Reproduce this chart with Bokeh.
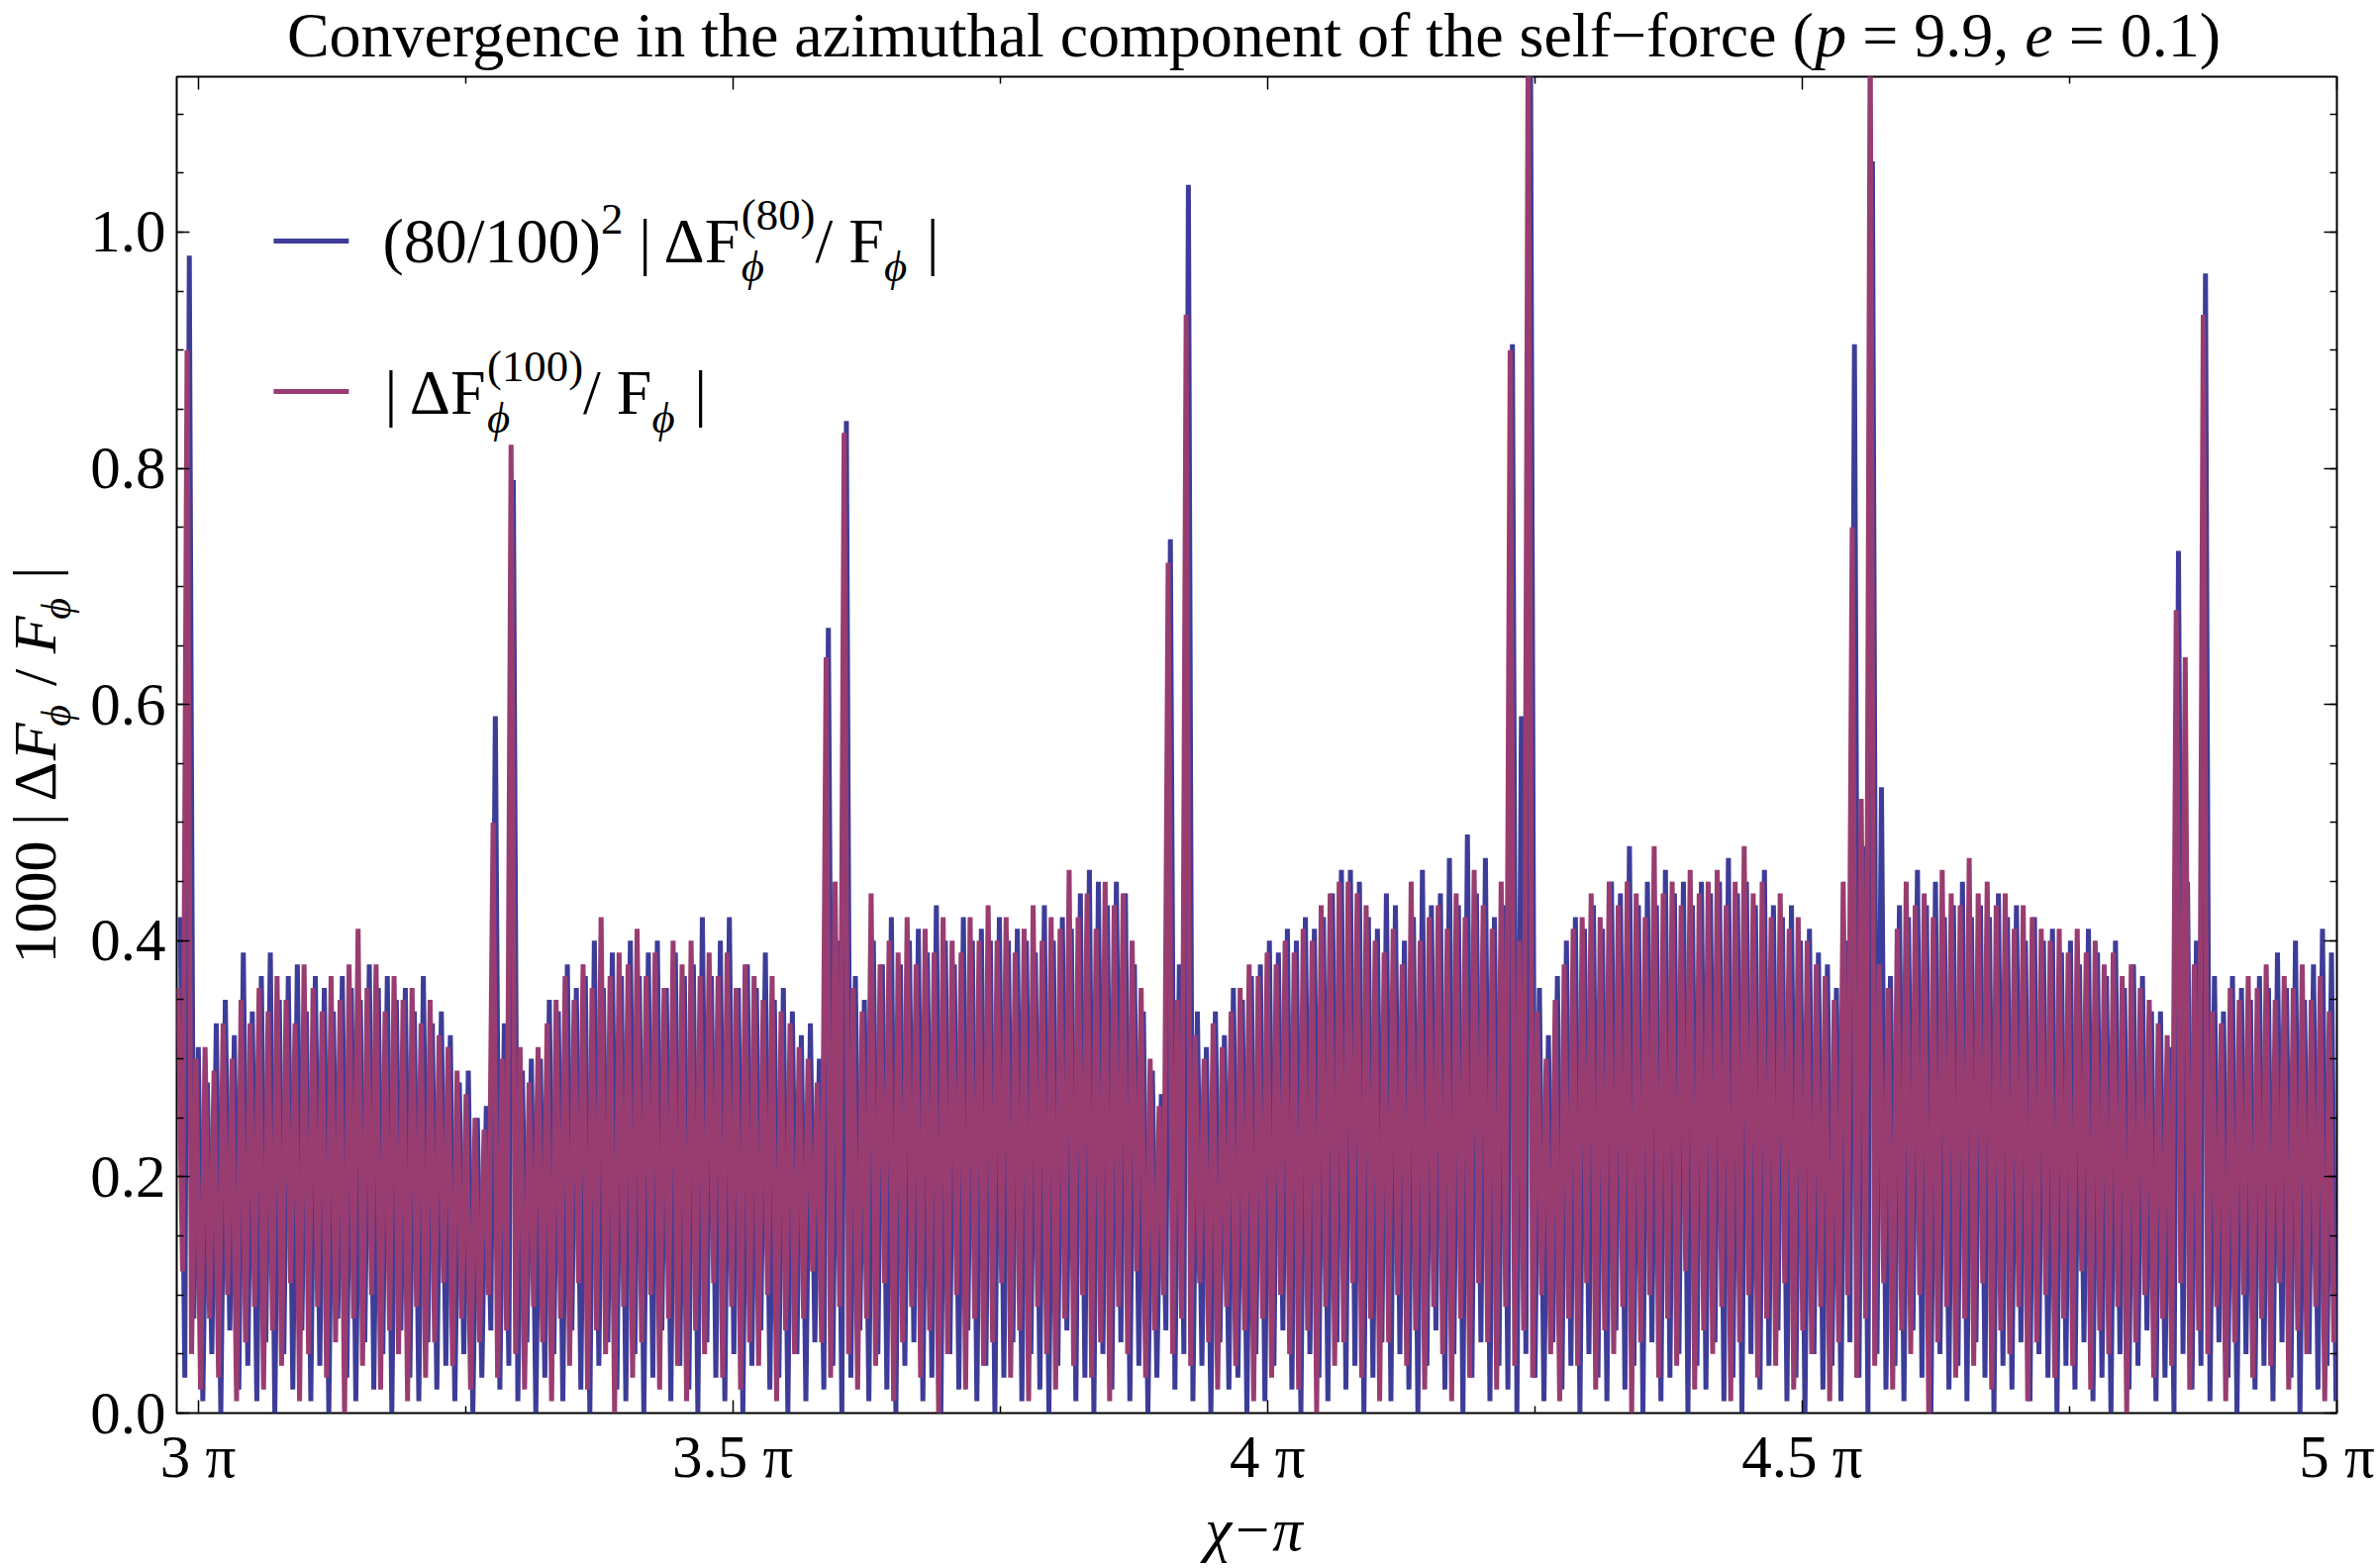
import numpy as np
from bokeh.plotting import figure
from bokeh.layouts import column, row
from bokeh.models import (Range1d, FixedTicker, LinearAxis, Label,
                          PrintfTickFormatter, CustomJSTickFormatter)
from bokeh.embed import file_html
from bokeh.resources import INLINE

# ---------------- data ----------------
# x in units of pi; 240 sample cells between x_start and x_end,
# each cell holds one local maximum and one local minimum per series
x_start = 2.98
x_end = 5.0

red_hi = [
 0.36,0.90,0.30,0.31,0.29,0.33,0.30,0.35,0.33,0.36,
 0.34,0.37,0.35,0.33,0.38,0.36,0.34,0.37,0.35,0.38,
 0.41,0.36,0.38,0.34,0.37,0.35,0.36,0.33,0.35,0.32,
 0.31,0.29,0.27,0.25,0.24,0.50,0.30,0.82,0.31,0.28,
 0.31,0.33,0.35,0.37,0.35,0.38,0.36,0.42,0.37,0.39,
 0.38,0.41,0.37,0.39,0.36,0.40,0.38,0.40,0.37,0.39,
 0.37,0.39,0.36,0.38,0.37,0.35,0.37,0.34,0.33,0.31,
 0.30,0.28,0.64,0.45,0.83,0.36,0.34,0.44,0.38,0.40,
 0.39,0.42,0.38,0.41,0.39,0.42,0.40,0.39,0.42,0.40,
 0.43,0.40,0.42,0.39,0.41,0.43,0.40,0.42,0.41,0.46,
 0.42,0.44,0.41,0.45,0.43,0.44,0.40,0.36,0.30,0.26,
 0.72,0.35,0.93,0.32,0.30,0.33,0.31,0.34,0.36,0.38,
 0.37,0.39,0.38,0.40,0.39,0.41,0.40,0.43,0.44,0.45,
 0.45,0.44,0.43,0.40,0.39,0.41,0.38,0.45,0.40,0.42,
 0.43,0.41,0.44,0.42,0.46,0.43,0.41,0.45,0.90,0.40,
 1.18,0.34,0.30,0.35,0.38,0.41,0.42,0.44,0.42,0.45,
 0.43,0.45,0.44,0.42,0.48,0.44,0.45,0.43,0.46,0.44,
 0.45,0.46,0.43,0.45,0.48,0.44,0.45,0.42,0.44,0.41,
 0.42,0.40,0.38,0.37,0.35,0.45,0.75,0.52,1.18,0.38,
 0.36,0.41,0.45,0.43,0.44,0.42,0.46,0.44,0.43,0.47,
 0.44,0.45,0.43,0.44,0.41,0.43,0.42,0.41,0.40,0.41,
 0.39,0.41,0.39,0.40,0.38,0.39,0.37,0.38,0.36,0.35,
 0.33,0.32,0.68,0.64,0.38,0.93,0.34,0.33,0.36,0.35,
 0.37,0.36,0.38,0.35,0.37,0.36,0.38,0.35,0.37,0.34,
]
red_lo = [
 0.12,0.05,0.02,0.08,0.03,0.10,0.01,0.06,0.09,0.02,
 0.07,0.04,0.11,0.01,0.05,0.09,0.03,0.06,0.00,0.08,
 0.04,0.10,0.02,0.07,0.05,0.01,0.09,0.03,0.06,0.11,
 0.04,0.08,0.02,0.06,0.10,0.03,0.07,0.05,0.02,0.09,
 0.06,0.01,0.08,0.04,0.11,0.02,0.07,0.05,0.00,0.09,
 0.03,0.06,0.10,0.02,0.08,0.04,0.01,0.07,0.05,0.11,
 0.03,0.09,0.02,0.06,0.04,0.10,0.01,0.07,0.05,0.08,
 0.12,0.06,0.03,0.09,0.05,0.02,0.08,0.04,0.11,0.01,
 0.06,0.09,0.03,0.07,0.00,0.05,0.10,0.02,0.08,0.04,
 0.06,0.11,0.03,0.07,0.01,0.09,0.05,0.02,0.08,0.04,
 0.10,0.03,0.06,0.01,0.09,0.05,0.12,0.03,0.07,0.10,
 0.05,0.08,0.04,0.11,0.06,0.02,0.09,0.04,0.07,0.01,
 0.08,0.03,0.10,0.05,0.02,0.07,0.00,0.09,0.04,0.06,
 0.11,0.03,0.08,0.01,0.06,0.10,0.04,0.07,0.02,0.09,
 0.05,0.01,0.08,0.03,0.11,0.06,0.02,0.09,0.04,0.07,
 0.03,0.10,0.05,0.01,0.08,0.04,0.11,0.02,0.07,0.05,
 0.09,0.00,0.06,0.10,0.03,0.08,0.04,0.12,0.02,0.07,
 0.05,0.09,0.01,0.06,0.10,0.03,0.08,0.04,0.11,0.02,
 0.07,0.05,0.09,0.01,0.06,0.10,0.03,0.08,0.04,0.11,
 0.02,0.07,0.05,0.10,0.00,0.06,0.09,0.03,0.08,0.04,
 0.11,0.02,0.07,0.05,0.09,0.01,0.06,0.10,0.03,0.08,
 0.04,0.12,0.02,0.07,0.05,0.09,0.00,0.06,0.10,0.03,
 0.08,0.04,0.11,0.02,0.07,0.05,0.09,0.01,0.06,0.10,
 0.03,0.08,0.04,0.11,0.02,0.07,0.05,0.09,0.01,0.06,
]
blue_hi = [
 0.42,0.98,0.31,0.28,0.33,0.35,0.32,0.39,0.34,0.37,
 0.39,0.35,0.37,0.38,0.34,0.37,0.36,0.34,0.37,0.36,
 0.35,0.38,0.36,0.37,0.35,0.36,0.34,0.37,0.33,0.34,
 0.32,0.28,0.29,0.25,0.26,0.59,0.33,0.79,0.29,0.30,
 0.30,0.35,0.34,0.38,0.36,0.37,0.40,0.36,0.39,0.37,
 0.40,0.37,0.39,0.40,0.36,0.39,0.37,0.38,0.42,0.37,
 0.40,0.42,0.36,0.38,0.36,0.39,0.35,0.36,0.34,0.32,
 0.33,0.30,0.665,0.40,0.84,0.37,0.35,0.40,0.38,0.42,
 0.38,0.40,0.41,0.39,0.43,0.40,0.38,0.42,0.40,0.41,
 0.40,0.42,0.40,0.41,0.40,0.39,0.43,0.40,0.42,0.41,
 0.44,0.46,0.45,0.43,0.45,0.44,0.38,0.34,0.29,0.27,
 0.74,0.38,1.04,0.34,0.31,0.34,0.32,0.36,0.35,0.37,
 0.38,0.40,0.39,0.41,0.40,0.42,0.41,0.42,0.44,0.46,
 0.46,0.45,0.42,0.41,0.44,0.43,0.40,0.42,0.46,0.43,
 0.44,0.47,0.43,0.49,0.44,0.47,0.42,0.43,0.905,0.59,
 1.18,0.36,0.32,0.37,0.40,0.42,0.41,0.43,0.41,0.45,
 0.44,0.48,0.43,0.45,0.43,0.46,0.44,0.45,0.43,0.45,
 0.44,0.45,0.47,0.44,0.45,0.43,0.46,0.43,0.42,0.43,
 0.40,0.41,0.39,0.38,0.36,0.40,0.905,0.48,1.06,0.53,
 0.37,0.43,0.42,0.46,0.43,0.45,0.42,0.43,0.45,0.42,
 0.43,0.42,0.44,0.42,0.43,0.40,0.42,0.40,0.41,0.39,
 0.40,0.38,0.41,0.39,0.37,0.40,0.36,0.38,0.37,0.34,
 0.34,0.31,0.73,0.45,0.40,0.965,0.37,0.34,0.37,0.36,
 0.35,0.37,0.36,0.39,0.36,0.40,0.35,0.38,0.41,0.39,
]
blue_lo = [
 0.03,0.08,0.01,0.05,0.00,0.07,0.02,0.04,0.01,0.06,
 0.00,0.05,0.02,0.07,0.01,0.04,0.00,0.08,0.03,0.01,
 0.06,0.02,0.05,0.00,0.07,0.03,0.01,0.06,0.02,0.04,
 0.01,0.05,0.00,0.03,0.07,0.02,0.04,0.01,0.06,0.00,
 0.03,0.05,0.01,0.07,0.02,0.00,0.04,0.06,0.02,0.01,
 0.05,0.00,0.03,0.07,0.01,0.04,0.02,0.00,0.06,0.03,
 0.01,0.05,0.00,0.04,0.07,0.02,0.03,0.00,0.05,0.01,
 0.06,0.02,0.04,0.00,0.03,0.07,0.01,0.05,0.02,0.00,
 0.04,0.06,0.01,0.03,0.00,0.05,0.02,0.07,0.01,0.04,
 0.00,0.03,0.06,0.01,0.05,0.02,0.00,0.04,0.07,0.01,
 0.03,0.00,0.05,0.02,0.06,0.01,0.04,0.00,0.03,0.07,
 0.02,0.05,0.01,0.04,0.00,0.06,0.02,0.03,0.00,0.05,
 0.01,0.04,0.07,0.02,0.00,0.05,0.03,0.01,0.06,0.02,
 0.04,0.00,0.03,0.06,0.01,0.05,0.02,0.00,0.04,0.07,
 0.02,0.05,0.00,0.03,0.06,0.01,0.04,0.02,0.00,0.05,
 0.03,0.01,0.06,0.02,0.04,0.00,0.05,0.03,0.01,0.07,
 0.02,0.04,0.00,0.06,0.01,0.03,0.05,0.00,0.04,0.02,
 0.06,0.01,0.03,0.00,0.05,0.02,0.04,0.07,0.01,0.03,
 0.00,0.05,0.02,0.04,0.01,0.06,0.03,0.00,0.05,0.02,
 0.04,0.01,0.07,0.03,0.00,0.05,0.02,0.04,0.01,0.06,
 0.03,0.00,0.04,0.02,0.06,0.01,0.05,0.03,0.00,0.04,
 0.02,0.06,0.01,0.03,0.00,0.05,0.02,0.04,0.07,0.01,
 0.03,0.00,0.05,0.02,0.04,0.01,0.06,0.03,0.00,0.05,
 0.02,0.04,0.01,0.06,0.03,0.00,0.05,0.02,0.04,0.01,
]

x_ticks = [3.0, 3.5, 4.0, 4.5, 5.0]
x_minor = [3.25, 3.75, 4.25, 4.75]
y_ticks = [0.0, 0.2, 0.4, 0.6, 0.8, 1.0]
y_minor = [round(0.05 * k, 2) for k in range(0, 23)]
y_top = 1.1316

PHI = "\u03d5"
title_parts = [("Convergence in the azimuthal component of the self\u2212force (", "normal"),
               ("p", "italic"), (" = 9.9, ", "normal"), ("e", "italic"), (" = 0.1)", "normal")]

BLUE = "#3D3D99"
RED = "#993D71"
FONT = "Liberation Serif"

# ---------------- layout (page pixels) ----------------
PW, PH = 2400, 1584
TOP_H = 74          # title strip
LEFT_W = 88         # y-label strip
FRAME_L, FRAME_T, FRAME_W, FRAME_H = 176, 77, 2184, 1350
MAIN_BOTTOM = 84
MAIN_H = (FRAME_T - TOP_H) + FRAME_H + MAIN_BOTTOM
BOT_H = PH - TOP_H - MAIN_H
MAIN_W = PW - LEFT_W

def blank(w, h):
    f = figure(width=w, height=h, output_backend="svg", toolbar_location=None,
               x_range=Range1d(0, 1), y_range=Range1d(0, 1),
               x_axis_type=None, y_axis_type=None, min_border=0)
    f.outline_line_color = None
    f.xgrid.visible = False
    f.ygrid.visible = False
    return f

top_fig = blank(PW, TOP_H)
left_fig = blank(LEFT_W, MAIN_H)
bot_fig = blank(PW, BOT_H)

p = figure(width=MAIN_W, height=MAIN_H, output_backend="svg", toolbar_location=None,
           x_range=Range1d(x_start, x_end), y_range=Range1d(0, y_top),
           min_border_left=FRAME_L - LEFT_W, min_border_right=MAIN_W - (FRAME_L - LEFT_W) - FRAME_W,
           min_border_top=FRAME_T - TOP_H, min_border_bottom=MAIN_BOTTOM,
           x_axis_type=None, y_axis_type=None)
p.outline_line_color = "black"
p.outline_line_width = 2
p.xgrid.visible = False
p.ygrid.visible = False

xt = FixedTicker(ticks=x_ticks, minor_ticks=x_minor)
yt = FixedTicker(ticks=y_ticks, minor_ticks=y_minor)

def style_axis(ax, show):
    ax.axis_line_color = None
    ax.major_tick_in = 13
    ax.major_tick_out = 0
    ax.minor_tick_in = 7
    ax.minor_tick_out = 0
    ax.major_tick_line_width = 1.5
    ax.minor_tick_line_width = 1.5
    ax.major_tick_line_color = "black"
    ax.minor_tick_line_color = "black"
    ax.major_label_text_font = FONT
    ax.major_label_text_font_size = "61px"
    ax.major_label_text_color = "black"
    if not show:
        ax.formatter = CustomJSTickFormatter(code="return ''")
        ax.major_label_standoff = 0

bx = LinearAxis(ticker=xt, formatter=CustomJSTickFormatter(code="return tick.toString() + ' \u03c0'"))
style_axis(bx, True)
bx.major_label_standoff = 10
p.add_layout(bx, "below")

ly = LinearAxis(ticker=yt, formatter=PrintfTickFormatter(format="%.1f"))
style_axis(ly, True)
ly.major_label_standoff = 11
p.add_layout(ly, "left")

tx = LinearAxis(ticker=xt)
style_axis(tx, False)
p.add_layout(tx, "above")
ry = LinearAxis(ticker=yt)
style_axis(ry, False)
p.add_layout(ry, "right")

# ---------------- data lines ----------------
n = len(red_hi)
dx = (x_end - x_start) / n

def zig(hi, lo, o1, o2):
    xs, ys = [], []
    for i, (h, l) in enumerate(zip(hi, lo)):
        xs += [x_start + (i + o1) * dx, x_start + (i + o2) * dx]
        ys += [h, l]
    return xs, ys

bxs, bys = zig(blue_hi, blue_lo, 0.40, 0.90)
rxs, rys = zig(red_hi, red_lo, 0.15, 0.65)
p.line(bxs, bys, line_color=BLUE, line_width=5, line_join="bevel")
p.line(rxs, rys, line_color=RED, line_width=5, line_join="bevel")

# ---------------- text helpers ----------------
CW = {' ': .25, '(': .333, ')': .333, '/': .278, '.': .25, ',': .25, '|': .2, '=': .564,
      '\u2212': .564, '\u0394': .612, 'F': .556, PHI: .6, '\u03c0': .55, '\u03c7': .55,
      'a': .444, 'b': .5, 'c': .444, 'd': .5, 'e': .444, 'f': .333, 'g': .5, 'h': .5, 'i': .278,
      'j': .278, 'k': .5, 'l': .278, 'm': .778, 'n': .5, 'o': .5, 'p': .5, 'q': .5, 'r': .333,
      's': .389, 't': .278, 'u': .5, 'v': .5, 'w': .722, 'x': .5, 'y': .5, 'z': .444, 'C': .667}

def tw(s, size):
    return sum(CW.get(c, 0.5) for c in s) * size

# figure -> (page x of frame left, page y of frame bottom)
ORIG = {}
BASE_SHIFT = 0.34   # renderer draws the alphabetic baseline this many em lower

def put(fig, text, X, Y, size, style="normal", angle=0.0, align="left"):
    ox, ob = ORIG[id(fig)]
    fig.add_layout(Label(x=X - ox, y=ob - Y, x_units="screen", y_units="screen", text=text,
                         text_font=FONT, text_font_size=f"{size:.1f}px", text_font_style=style,
                         text_color="black", text_align=align, text_baseline="alphabetic",
                         angle=angle))

ORIG[id(p)] = (FRAME_L, FRAME_T + FRAME_H)
ORIG[id(top_fig)] = (0, TOP_H)
ORIG[id(left_fig)] = (0, TOP_H + MAIN_H)
ORIG[id(bot_fig)] = (0, PH)

def run(fig, pieces, X, Y, base, vertical=False):
    # X, Y: page pixel position where the baseline starts
    pos = 0.0
    for text, sf, style, rise, adv in pieces:
        size = base * sf
        lead = (len(text) - len(text.lstrip(" "))) * CW[" "] * size
        core = text.strip(" ")
        if vertical:
            put(fig, core, X - rise * base - 0.43 * size, Y - pos - lead + 96, size, style,
                angle=np.pi / 2)
        else:
            put(fig, core, X + pos + lead, Y - rise * base - BASE_SHIFT * size, size, style)
        if adv:
            pos += tw(text, size)

# title
TF = 64
tot = sum(tw(t, TF) for t, _ in title_parts)
run(top_fig, [(t, 1, s, 0, True) for t, s in title_parts], 1266 - tot / 2, 57, TF)

# legend
LF = 64
SUB, SUP = -0.30, 0.52
leg1 = [("(80/100)", 1, "normal", 0, True), ("2", 0.7, "normal", 0.45, True),
        (" | \u0394F", 1, "normal", 0, True), (PHI, 0.7, "italic", SUB, False),
        ("(80)", 0.7, "normal", SUP, True), ("/ F", 1, "normal", 0, True),
        (PHI, 0.7, "italic", SUB, True), (" |", 1, "normal", 0, True)]
leg2 = [("| \u0394F", 1, "normal", 0, True), (PHI, 0.7, "italic", SUB, False),
        ("(100)", 0.7, "normal", SUP, True), ("/ F", 1, "normal", 0, True),
        (PHI, 0.7, "italic", SUB, True), (" |", 1, "normal", 0, True)]
run(p, leg1, 384, 265, LF)
run(p, leg2, 386, 418, LF)

def dxp(X):
    return x_start + (X - FRAME_L) / FRAME_W * (x_end - x_start)

def dyp(Y):
    return (FRAME_T + FRAME_H - Y) / FRAME_H * y_top

p.segment(x0=[dxp(274)], y0=[dyp(243)], x1=[dxp(350)], y1=[dyp(243)], line_color=BLUE, line_width=5)
p.segment(x0=[dxp(274)], y0=[dyp(395)], x1=[dxp(350)], y1=[dyp(395)], line_color=RED, line_width=5)

# y axis label (rotated, reading upwards)
YF = 62
VSUB = -0.20
ylab = [("1000 | \u0394", 1, "normal", 0, True), ("F", 1, "italic", 0, True),
        (PHI, 0.68, "italic", VSUB, True), (" / ", 1, "normal", 0, True),
        ("F", 1, "italic", 0, True), (PHI, 0.68, "italic", VSUB, True),
        (" |", 1, "normal", 0, True)]
run(left_fig, ylab, 61.5, 961, YF, vertical=True)

# x axis label
put(bot_fig, "\u03c7\u2212\u03c0", 1266, 1566 - BASE_SHIFT * 61, 61, "italic", align="center")

layout = column(top_fig, row(left_fig, p), bot_fig)
open("out.html", "w").write(file_html(layout, INLINE))
